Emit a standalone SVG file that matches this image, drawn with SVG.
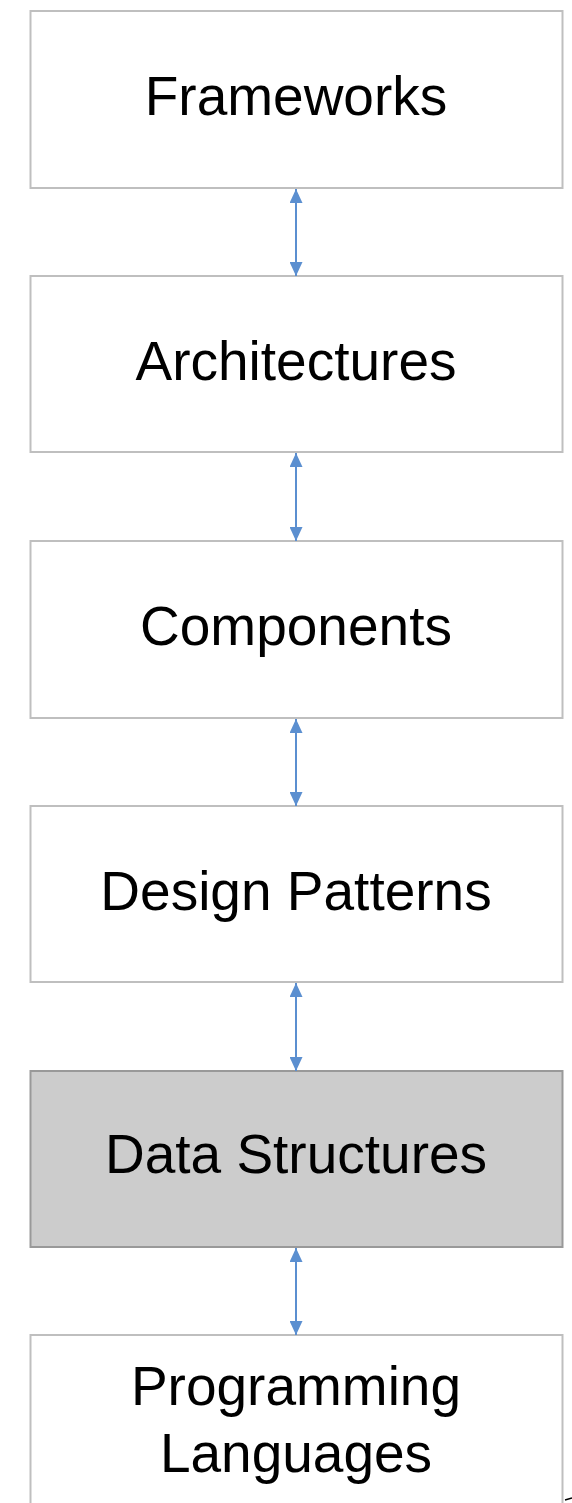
<svg xmlns="http://www.w3.org/2000/svg" width="572" height="1503" viewBox="0 0 572 1503">
<style>
.box{fill:#ffffff;stroke:#bfbfbf;stroke-width:2}
.hl{fill:#cccccc;stroke:#999999;stroke-width:2}
.t{font-family:"Liberation Sans",Arial,sans-serif;font-size:55px;fill:#000;text-anchor:middle}
.c{stroke:#5b8fd0;stroke-width:2;fill:none;marker-start:url(#ah);marker-end:url(#ah)}
</style>
<defs>
<marker id="ah" viewBox="0 0 14 13" refX="14" refY="6.5" markerWidth="14" markerHeight="13" markerUnits="userSpaceOnUse" orient="auto-start-reverse">
<path d="M0,0 L14,6.5 L0,13 Z" fill="#5b8fd0"/>
</marker>
</defs>
<g id="frameworks"><rect class="box" x="30.5" y="11" width="532" height="177"/><text class="t" x="296" y="115">Frameworks</text></g>
<g id="architectures"><rect class="box" x="30.5" y="276" width="532" height="176"/><text class="t" x="296" y="380">Architectures</text></g>
<g id="components"><rect class="box" x="30.5" y="541" width="532" height="177"/><text class="t" x="296" y="645">Components</text></g>
<g id="design-patterns"><rect class="box" x="30.5" y="806" width="532" height="176"/><text class="t" x="296" y="910">Design Patterns</text></g>
<g id="data-structures"><rect class="hl" x="30.5" y="1071" width="532" height="176"/><text class="t" x="296" y="1173">Data Structures</text></g>
<g id="programming-languages"><rect class="box" x="30.5" y="1335" width="532" height="190"/><text class="t" x="296" y="1405">Programming</text><text class="t" x="296" y="1472">Languages</text></g>
<g id="connectors">
<line class="c" x1="296" y1="189" x2="296" y2="276"/>
<line class="c" x1="296" y1="453" x2="296" y2="541"/>
<line class="c" x1="296" y1="719" x2="296" y2="806"/>
<line class="c" x1="296" y1="983" x2="296" y2="1071"/>
<line class="c" x1="296" y1="1248" x2="296" y2="1335"/>
</g>
<path d="M565,1500 L572,1498" stroke="#000" stroke-width="1.5" fill="none"/>
</svg>
